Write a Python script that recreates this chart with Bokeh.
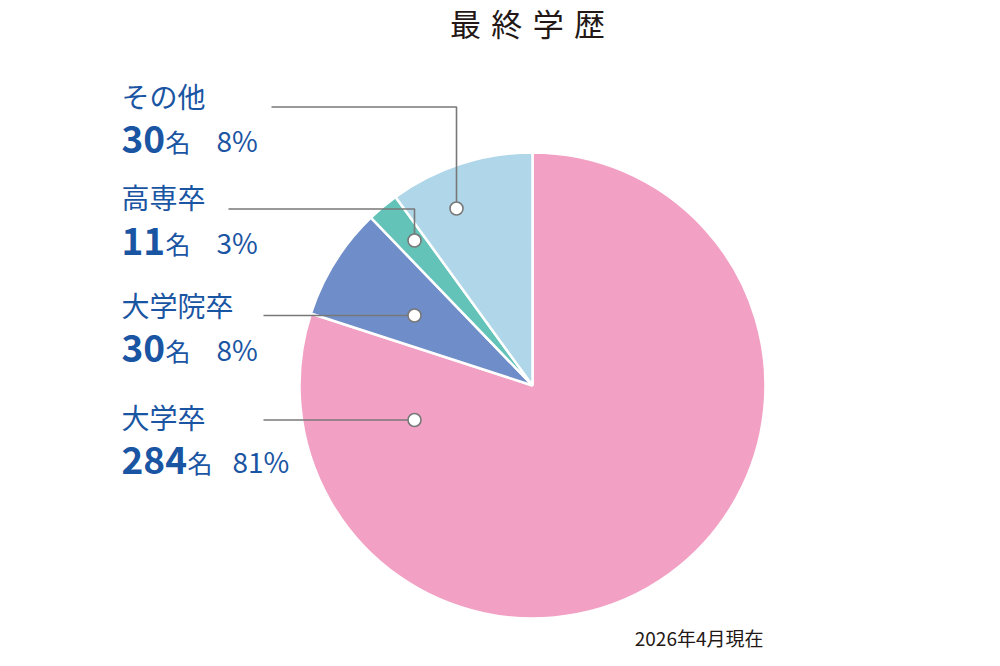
import math
from bokeh.plotting import figure
from bokeh.models import Range1d
from bokeh.core.properties import value
from bokeh.embed import file_html
from bokeh.resources import INLINE

# ---- data (clockwise from 12 o'clock) ----
categories = ["大学卒", "大学院卒", "高専卒", "その他"]
counts = [284, 30, 11, 30]
percents = [81, 8, 3, 8]
# share of the circle given to each slice, as drawn in the reference (%)
slice_shares = [80.0, 7.8, 2.2, 10.0]
colors = ["#F2A1C4", "#6F8DC8", "#63C3B8", "#B0D6E9"]
title_text = "最\u2004終\u2004学\u2004歴"
note_text = "2026年4月現在"

# ---- layout (picture pixels) ----
W, H = 984, 650
FONT = "Noto Sans CJK JP"
LABEL_BLUE = "#1A55A3"
DARK = "#231815"
GRAY = "#787878"

def Y(py):
    return 666 - py

cx, cy, R = 532, Y(385), 233

p = figure(width=W, height=H, output_backend="svg", toolbar_location=None,
           x_range=Range1d(0, W), y_range=Range1d(666 - H, 666),
           min_border=0, x_axis_location=None, y_axis_location=None)
p.outline_line_color = None
p.xgrid.visible = False
p.ygrid.visible = False
p.background_fill_color = "white"
p.border_fill_color = "white"

# ---- pie ----
total = sum(slice_shares)
starts, ends = [], []
cum = 0.0
for s in slice_shares:
    a_end = math.radians(90 - cum / total * 360)
    cum += s
    a_start = math.radians(90 - cum / total * 360)
    starts.append(a_start)
    ends.append(a_end)

p.wedge(x=[cx] * len(categories), y=[cy] * len(categories), radius=R,
        start_angle=starts, end_angle=ends, fill_color=colors,
        line_color="white", line_width=2.5)

# ---- leader lines ----
leader_start_x = [263, 263, 228, 271]
leader_y = [419.5, 315, 208.5, 106.5]
anchor_x = [414, 414, 414, 456]
anchor_y = [419.5, 315, 240, 208]

xs, ys = [], []
for i in range(len(categories)):
    xs.append([leader_start_x[i], anchor_x[i], anchor_x[i]])
    ys.append([Y(leader_y[i]), Y(leader_y[i]), Y(anchor_y[i])])
p.multi_line(xs=xs, ys=ys, line_color=GRAY, line_width=1.6)
p.scatter(x=anchor_x, y=[Y(v) for v in anchor_y], size=13, marker="circle",
          fill_color="white", line_color=GRAY, line_width=1.6)

# ---- labels ----
label_x = 121
name_y = [416, 304, 196, 95]
value_y = [459.5, 347.5, 240.5, 138.5]
unit_x = [187, 165, 165, 165]
pct_x = [232, 216, 216, 216]

p.text(x=[label_x] * 4, y=[Y(v) for v in name_y], text=categories,
       text_font=value(FONT), text_font_size="28px", text_color=LABEL_BLUE,
       text_align="left", text_baseline="middle")
p.text(x=[label_x] * 4, y=[Y(v) for v in value_y], text=[str(c) for c in counts],
       text_font=value(FONT), text_font_size="37px", text_font_style="bold",
       text_color=LABEL_BLUE, text_align="left", text_baseline="middle")
p.text(x=unit_x, y=[Y(v + 2) for v in value_y], text=["名"] * 4,
       text_font=value(FONT), text_font_size="25px", text_color=LABEL_BLUE,
       text_align="left", text_baseline="middle")
p.text(x=pct_x, y=[Y(v + 1) for v in value_y], text=[f"{v}%" for v in percents],
       text_font=value(FONT), text_font_size="28px", text_color=LABEL_BLUE,
       text_align="left", text_baseline="middle")

# ---- title & note ----
p.text(x=[527], y=[Y(22)], text=[title_text], text_font=value(FONT),
       text_font_size="31px", text_color=DARK, text_align="center",
       text_baseline="middle")
p.text(x=[763], y=[Y(637)], text=[note_text], text_font=value(FONT),
       text_font_size="19px", text_color=DARK, text_align="right",
       text_baseline="middle")

open("out.html", "w").write(file_html(p, INLINE))
